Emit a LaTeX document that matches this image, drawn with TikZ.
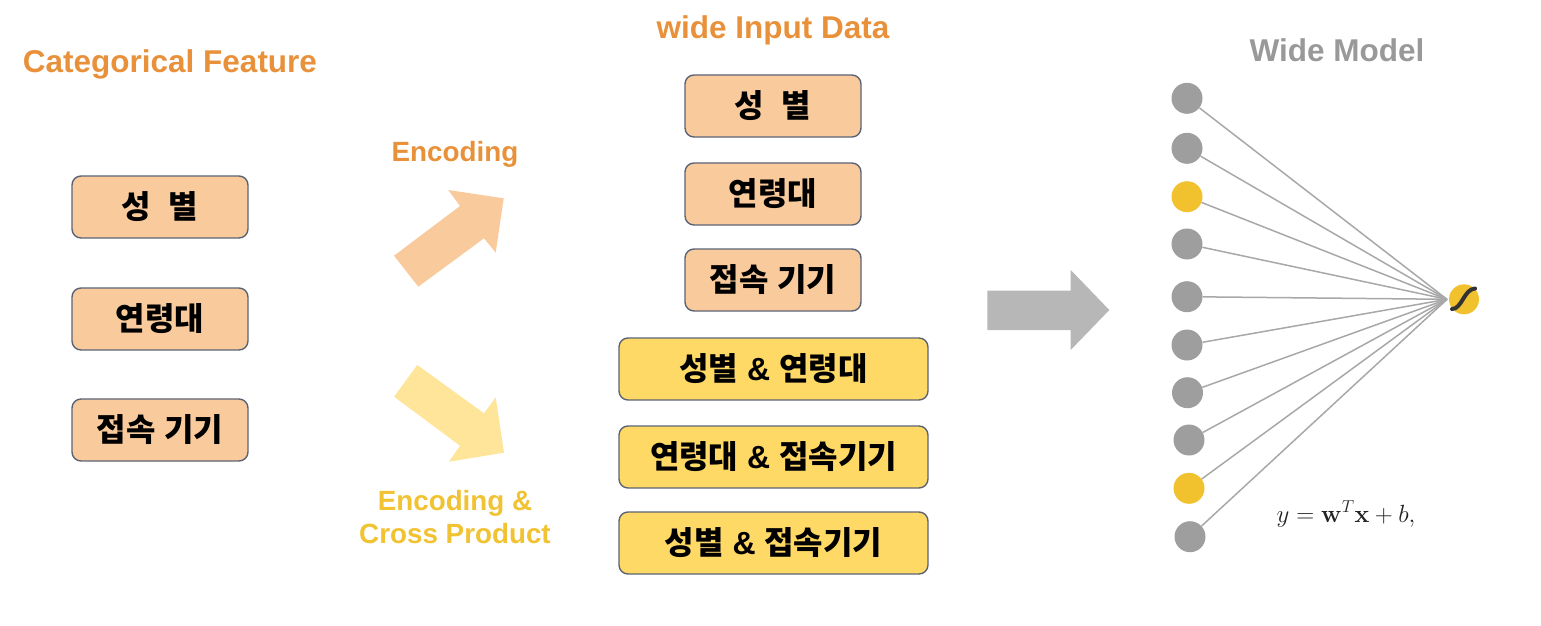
\documentclass[tikz,border=0pt]{standalone}
\usepackage[no-math]{fontspec}
\setmainfont{Liberation Sans}
\newfontfamily\kr{Noto Sans CJK KR}
\definecolor{peach}{HTML}{F9CB9C}
\definecolor{yelbox}{HTML}{FFD966}
\definecolor{yelarrow}{HTML}{FFE599}
\definecolor{boxline}{HTML}{5B6475}
\definecolor{orangeT}{HTML}{E8913A}
\definecolor{yelT}{HTML}{F1C232}
\definecolor{grayT}{HTML}{999999}
\definecolor{grayarrow}{HTML}{B7B7B7}
\definecolor{gcirc}{HTML}{9E9E9E}
\definecolor{ycirc}{HTML}{F2C12E}
\definecolor{wirec}{HTML}{A8A8A8}
\definecolor{sig}{HTML}{333333}
\definecolor{formula}{HTML}{222222}
\newcommand{\ko}[1]{{\kr #1}}
\begin{document}
\begin{tikzpicture}[x=1pt,y=-1pt,
  fbox/.style={draw=boxline, line width=1.4pt, rounded corners=9pt, minimum height=62pt, inner sep=0pt, font=\bfseries\fontsize{32}{36}\selectfont, text=black},
  peachbox/.style={fbox, fill=peach, minimum width=176pt},
  yelbox/.style={fbox, fill=yelbox, minimum width=309pt},
  ttl/.style={font=\bfseries\fontsize{31.5}{36}\selectfont, anchor=base},
  subttl/.style={font=\bfseries\fontsize{27.8}{33}\selectfont, anchor=base},
  inp/.style={circle, minimum size=31pt, inner sep=0pt},
  wire/.style={draw=wirec, line width=1.5pt}
]
\useasboundingbox (0,0) rectangle (1541,626);

% titles
\node[ttl, text=orangeT] (t1) at (170,72) {Categorical Feature};
\node[ttl, text=orangeT] (t2) at (773,38) {wide Input Data};
\node[ttl, text=grayT] (t3) at (1337,61) {Wide Model};
\node[subttl, text=orangeT] (t4) at (455,161) {Encoding};
\node[subttl, text=yelT] (t5) at (455,510) {Encoding \&};
\node[subttl, text=yelT] (t6) at (455,543) {Cross Product};

% left boxes
\node[peachbox] (l1) at (160,207) {\ko{성}\hspace{18pt}\ko{별}};
\node[peachbox] (l2) at (160,319) {\ko{연령대}};
\node[peachbox] (l3) at (160,430) {\ko{접속} \ko{기기}};

% middle boxes
\node[peachbox] (m1) at (773,106) {\ko{성}\hspace{18pt}\ko{별}};
\node[peachbox] (m2) at (773,194) {\ko{연령대}};
\node[peachbox] (m3) at (773,280) {\ko{접속} \ko{기기}};
\node[yelbox] (m4) at (773.5,369) {\ko{성별} \& \ko{연령대}};
\node[yelbox] (m5) at (773.5,457) {\ko{연령대} \& \ko{접속기기}};
\node[yelbox] (m6) at (773.5,543) {\ko{성별} \& \ko{접속기기}};

% block arrows
\fill[peach] (394,255.7) -- (418.3,286.7) -- (484,238.3) -- (495.7,252.7) -- (503.7,198.3) -- (448.3,190) -- (460,206) -- cycle;
\fill[yelarrow] (417.3,365) -- (394,396.7) -- (460,445.7) -- (449,461.7) -- (504,452.7) -- (495.7,397.3) -- (484,413.3) -- cycle;
\fill[grayarrow] (987.3,290.7) -- (1070.7,290.7) -- (1070.7,270) -- (1109.3,310) -- (1070.7,350) -- (1070.7,330) -- (987.3,330) -- cycle;

% wide model
\node[inp, fill=gcirc] (i1) at (1187,98.3) {};
\node[inp, fill=gcirc] (i2) at (1187,148.3) {};
\node[inp, fill=ycirc] (i3) at (1187,196.7) {};
\node[inp, fill=gcirc] (i4) at (1187,244) {};
\node[inp, fill=gcirc] (i5) at (1187,296.7) {};
\node[inp, fill=gcirc] (i6) at (1187,345) {};
\node[inp, fill=gcirc] (i7) at (1187.5,392.7) {};
\node[inp, fill=gcirc] (i8) at (1189,440) {};
\node[inp, fill=ycirc] (i9) at (1189,488.3) {};
\node[inp, fill=gcirc] (i10) at (1190,536.7) {};
\coordinate (conv) at (1447,299.3);
\foreach \i in {1,...,10} \draw[wire] (i\i) -- (conv);
\node[inp, fill=ycirc, minimum size=30pt] (o) at (1464,299.3) {};
\draw[sig, line width=4pt, line cap=round] (1452,309) .. controls (1462,309) and (1464,289) .. (1475,288.5);

\node[anchor=base, font=\fontsize{24}{28}\selectfont, text=formula] (f) at (1346,522) {$y=\mathbf{w}^T\mathbf{x}+b,$};
\end{tikzpicture}
\end{document}
